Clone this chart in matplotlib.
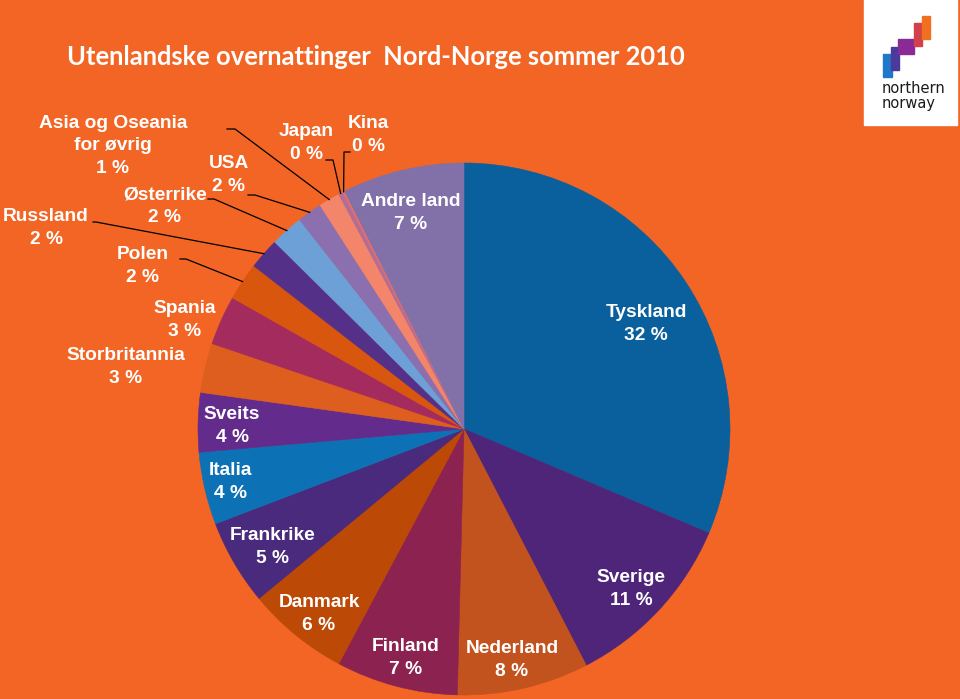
#!/usr/bin/env python
# -*- coding: utf-8 -*-

import numpy as np
from matplotlib import pyplot as plt
from matplotlib.patches import Rectangle

# data (clockwise from 12 o'clock)
countries = ['Tyskland', 'Sverige', 'Nederland', 'Finland', 'Danmark',
             'Frankrike', 'Italia', 'Sveits', 'Storbritannia', 'Spania',
             'Polen', 'Russland', 'Østerrike', 'USA',
             'Asia og Oseania\nfor øvrig', 'Japan', 'Kina', 'Andre land']
shares = [31.4, 11.0, 8.0, 7.4, 6.2, 5.2, 4.4, 3.6, 3.0, 3.0,
          2.3, 1.9, 2.0, 1.5, 1.3, 0.25, 0.15, 7.4]
pct_labels = ['32 %', '11 %', '8 %', '7 %', '6 %', '5 %', '4 %', '4 %',
              '3 %', '3 %', '2 %', '2 %', '2 %', '2 %', '1 %', '0 %',
              '0 %', '7 %']
colors = ['#0A5F9D', '#4F2579', '#C2521E', '#8B2250', '#BC4A06', '#4A2A7C',
          '#0D72B5', '#632C8C', '#DD5E1E', '#A42B5E', '#D9560F', '#553089',
          '#6CA0D6', '#8B6FAE', '#F2856A', '#B26C99', '#E06F6F', '#8270A8']

BG = '#F26524'
CX, CY, R = 464, 429, 266

# label placement in pixels: (x, y, (leader start, leader knee)) ; None = no leader
place = {
    'Tyskland': (646, 324, None),
    'Sverige': (631, 589, None),
    'Nederland': (512, 660, None),
    'Finland': (406, 658, None),
    'Danmark': (319, 614, None),
    'Frankrike': (273, 547, None),
    'Italia': (230, 482, None),
    'Sveits': (232, 426, None),
    'Andre land': (411, 213, None),
    'Storbritannia': (126, 367, None),
    'Spania': (185, 320, None),
    'Polen': (143, 266, ((180, 259), (186, 259))),
    'Russland': (46, 228, ((93, 222), (96, 222))),
    'Østerrike': (165, 206, ((208, 199), (214, 199))),
    'USA': (229, 175, ((248, 195), (255, 195))),
    'Asia og Oseania\nfor øvrig': (113, 146, ((227, 129), (235, 129))),
    'Japan': (306, 143, ((326, 160), (333, 160))),
    'Kina': (368, 135, ((350, 152), (344, 152))),
}

fig = plt.figure(figsize=(9.6, 6.99), dpi=100, facecolor=BG)
ax = fig.add_axes([0, 0, 1, 1])

wedges, _ = ax.pie(shares, colors=colors, center=(CX, CY), radius=R,
                   startangle=270, counterclock=True, normalize=True,
                   frame=True)
for w in wedges:
    w.set_edgecolor(w.get_facecolor())
    w.set_linewidth(0.4)
ax.set_xlim(0, 960)
ax.set_ylim(699, 0)
ax.axis('off')

lab_font = dict(family=['Liberation Sans', 'DejaVu Sans'], weight='bold',
                color='white', fontsize=13.8, ha='center', va='center',
                linespacing=1.42)

for w, name, pct in zip(wedges, countries, pct_labels):
    x, y, leader = place[name]
    ax.text(x, y, name + '\n' + pct, **lab_font)
    if leader is not None:
        mid = np.deg2rad((w.theta1 + w.theta2) / 2)
        ex, ey = CX + R * np.cos(mid), CY + R * np.sin(mid)
        (sx, sy), (kx, ky) = leader
        ax.plot([sx, kx, ex], [sy, ky, ey], color='black', lw=0.9)

# title
fig.text(67 / 960, 1 - 57 / 699,
         'Utenlandske overnattinger  Nord-Norge sommer 2010',
         family=['Lato', 'DejaVu Sans'], weight='bold', color='white',
         fontsize=18.4, ha='left', va='center')

# logo
ax.add_patch(Rectangle((864, 0), 93, 125, color='white', zorder=5))
for (x0, y0, x1, y1, c) in [(883, 54, 892, 77, '#1F78C8'),
                            (891, 47, 899, 70, '#4B3A9C'),
                            (898, 39, 914, 54, '#8A2A96'),
                            (914, 23, 922, 46, '#D2404A'),
                            (922, 16, 930, 39, '#F07020')]:
    ax.add_patch(Rectangle((x0, y0), x1 - x0, y1 - y0, color=c, zorder=6))
ax.text(882, 96, 'northern\nnorway', family='DejaVu Sans', fontsize=10.5,
        color='#1A1A1A', ha='left', va='center', linespacing=0.95, zorder=7)

fig.savefig('out.png', dpi=100, facecolor=BG)
